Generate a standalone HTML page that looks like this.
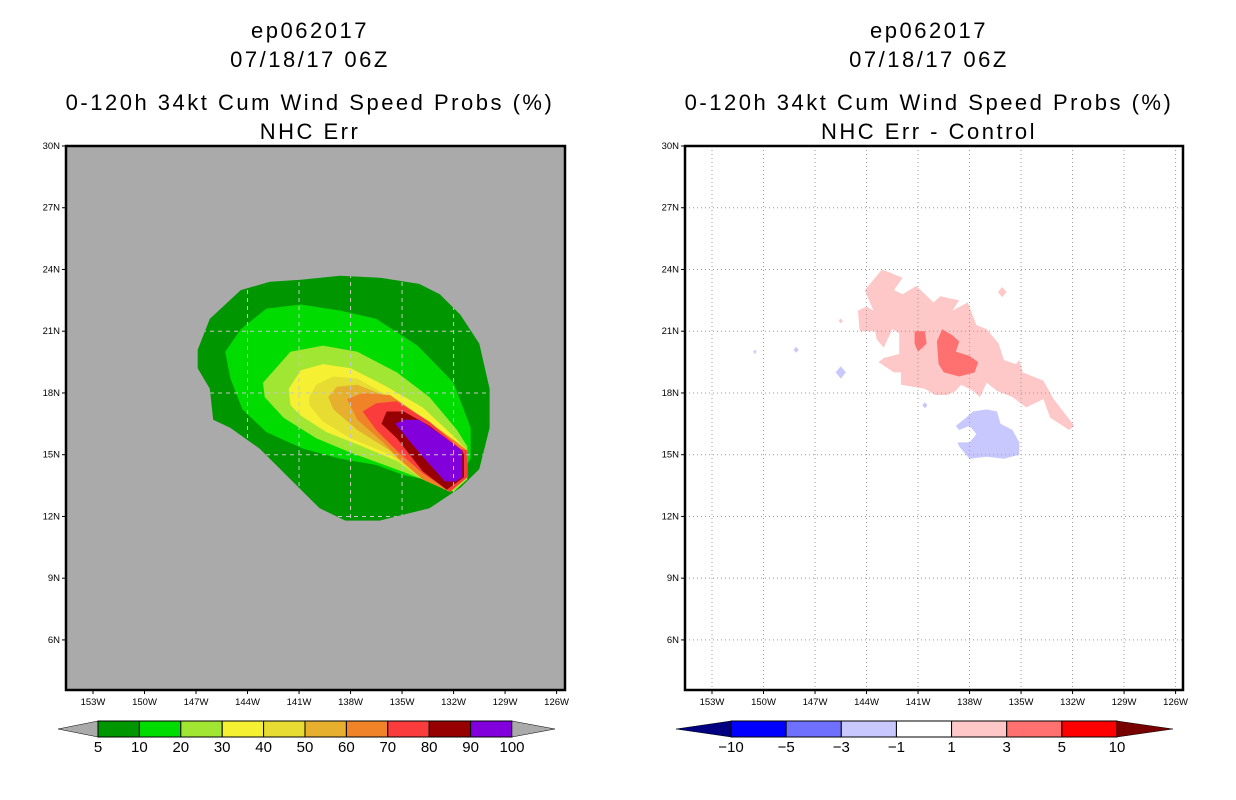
<!DOCTYPE html>
<html><head><meta charset="utf-8"><style>
html,body{margin:0;padding:0;background:#fff;}
svg{display:block;font-family:"Liberation Sans",sans-serif;}
.t{font-size:22px;text-anchor:middle;fill:#000;letter-spacing:2.5px}
.ax{font-size:9.5px;fill:#000}
.cb{font-size:15px;text-anchor:middle;fill:#000}
</style></head><body>
<svg id="root" width="1236" height="800" viewBox="0 0 1236 800">
<defs><clipPath id="clipL"><polygon id="clipPoly" points=""/></clipPath></defs>
<g id="titles">
<text class="t" x="310" y="38">ep062017</text>
<text class="t" x="310" y="67">07/18/17 06Z</text>
<text class="t" x="310" y="110">0-120h 34kt Cum Wind Speed Probs (%)</text>
<text class="t" x="310" y="139">NHC Err</text>
<text class="t" x="929" y="38">ep062017</text>
<text class="t" x="929" y="67">07/18/17 06Z</text>
<text class="t" x="929" y="110">0-120h 34kt Cum Wind Speed Probs (%)</text>
<text class="t" x="929" y="139">NHC Err - Control</text>
</g>
<g id="left"></g>
<g id="right"></g>
<g id="cbars"></g>
</svg>
<script>
// ---- data ----
const lonTicks = [-153,-150,-147,-144,-141,-138,-135,-132,-129,-126];
const latTicks = [30,27,24,21,18,15,12,9,6];
const probLevels = [5,10,20,30,40,50,60,70,80,90,100];
const probColors = ["#009600","#00dc00","#a0e632","#f5f032","#e6dc32","#e6af2d","#f08228","#fa3c3c","#960000","#8200dc"];
// contour polygons [lon,lat] for >=5,>=10,...>=90
const p5 = [[-146.9,20.1],[-146.2,21.6],[-144.4,23.0],[-142.7,23.4],[-140.9,23.5],[-138.6,23.7],[-136.3,23.6],[-134.0,23.3],[-132.8,22.8],[-131.6,21.8],[-130.5,20.4],[-129.9,18.2],[-129.9,16.3],[-130.5,14.3],[-131.6,13.4],[-133.4,12.4],[-136.3,11.8],[-138.3,11.8],[-139.8,12.4],[-141.5,13.8],[-143.3,15.3],[-145.0,16.3],[-146.0,16.7],[-146.2,18.2],[-146.9,19.2]];
const p10 = [[-145.3,20.0],[-144.4,21.1],[-142.9,22.1],[-140.9,22.3],[-138.6,22.0],[-136.5,21.6],[-134.1,20.3],[-132.0,18.5],[-131.0,16.3],[-131.0,14.8],[-131.8,13.8],[-133.0,13.7],[-134.9,14.0],[-136.5,14.5],[-138.6,14.8],[-140.8,15.3],[-142.9,16.1],[-144.3,17.2],[-145.0,18.7]];
const p20 = [[-143.1,18.5],[-141.5,20.0],[-139.6,20.3],[-137.6,20.0],[-135.3,19.0],[-133.4,17.8],[-131.8,16.2],[-131.2,15.4],[-131.2,13.8],[-132.0,13.2],[-133.8,13.8],[-135.7,14.4],[-138.0,15.1],[-140.0,15.8],[-141.9,16.8],[-143.0,17.8]];
const p30 = [[-141.6,18.2],[-140.9,19.1],[-139.6,19.4],[-138.0,19.2],[-136.1,18.4],[-133.8,17.3],[-132.0,15.9],[-131.2,15.2],[-131.2,13.9],[-132.2,13.2],[-133.8,13.8],[-135.3,14.7],[-137.3,15.4],[-139.4,16.1],[-140.9,16.9],[-141.5,17.4]];
const p40 = [[-140.4,17.8],[-140.0,18.4],[-139.0,18.8],[-137.6,18.7],[-135.7,17.8],[-133.4,16.6],[-131.8,15.6],[-131.2,15.2],[-131.2,13.9],[-132.2,13.2],[-133.8,13.8],[-135.7,15.0],[-138.0,15.8],[-139.6,16.6],[-140.4,17.4]];
const p50 = [[-139.3,17.8],[-138.8,18.3],[-137.6,18.4],[-136.1,17.9],[-133.8,16.8],[-131.8,15.6],[-131.2,15.2],[-131.2,13.9],[-132.2,13.2],[-133.8,13.8],[-135.7,15.2],[-137.6,16.2],[-139.0,17.2]];
const p60 = [[-138.2,17.7],[-137.3,18.0],[-135.7,17.9],[-133.8,16.8],[-131.8,15.6],[-131.2,15.2],[-131.2,13.9],[-132.2,13.2],[-133.8,13.8],[-135.2,14.8],[-136.1,15.6],[-137.6,16.7]];
const p70 = [[-137.3,17.1],[-136.5,17.5],[-135.3,17.6],[-133.4,16.6],[-131.6,15.3],[-131.2,15.2],[-131.2,13.9],[-132.2,13.2],[-133.8,14.1],[-135.3,15.2],[-136.5,16.2]];
const p80 = [[-136.2,16.5],[-135.9,17.1],[-134.9,17.1],[-133.4,16.4],[-131.5,15.2],[-131.4,15.0],[-131.4,13.9],[-132.4,13.3],[-133.8,14.2],[-135.3,15.8]];
const p90 = [[-135.4,16.5],[-134.9,16.7],[-134.0,16.7],[-132.6,15.9],[-131.5,15.2],[-131.5,13.9],[-131.9,13.7],[-132.5,13.7],[-133.8,14.9],[-134.9,16.0]];
const probPolys = [p5,p10,p20,p30,p40,p50,p60,p70,p80,p90];
// difference field
const diffLevels = [-10,-5,-3,-1,1,3,5,10];
const diffColors = ["#000080","#0000ff","#7070ff","#c8c8ff","#ffffff","#ffc8c8","#ff7070","#ff0000","#780000"];
const dPos1 = [[-143.1,24.0],[-141.9,23.6],[-142.4,23.0],[-141.9,22.8],[-141.1,23.2],[-140.1,22.4],[-139.7,22.7],[-138.6,22.5],[-139.0,22.0],[-138.1,22.4],[-137.6,21.3],[-137.0,21.1],[-136.3,20.4],[-136.0,19.6],[-135.3,19.4],[-135.1,19.6],[-134.9,19.0],[-133.7,18.6],[-133.1,17.7],[-131.9,16.4],[-132.2,16.2],[-133.3,16.8],[-133.7,17.7],[-134.7,17.3],[-135.5,17.8],[-136.4,18.1],[-137.0,18.5],[-137.4,17.8],[-137.8,18.1],[-138.5,18.4],[-138.8,18.1],[-139.3,17.9],[-140.0,17.9],[-140.6,18.2],[-142.0,18.4],[-142.0,19.0],[-142.4,19.0],[-143.3,19.5],[-143.0,19.7],[-142.1,19.9],[-142.1,20.9],[-142.5,21.1],[-143.0,20.2],[-143.4,20.6],[-143.5,21.0],[-144.4,21.0],[-144.5,22.0],[-144.0,22.2],[-143.6,22.0],[-144.1,23.0]];
const dPos3a = [[-141.2,21.0],[-140.6,21.0],[-140.5,20.4],[-141.0,20.0],[-141.2,20.4]];
const dPos3b = [[-139.6,21.1],[-139.0,20.8],[-138.6,20.5],[-138.8,20.0],[-138.0,19.8],[-137.5,19.5],[-137.7,19.0],[-138.6,18.8],[-139.5,19.0],[-139.8,19.4],[-139.9,20.5]];
const dNeg1 = [[-138.8,16.4],[-138.2,16.8],[-137.8,17.1],[-137.0,17.2],[-136.4,17.1],[-136.2,16.5],[-135.5,16.2],[-135.1,15.6],[-135.1,15.0],[-136.0,14.8],[-137.0,14.9],[-138.0,14.8],[-138.6,15.4],[-138.7,15.6],[-138.0,15.6],[-137.6,16.0],[-138.0,16.4],[-138.6,16.2]];
const speckLon = [-145.5,-148.1,-150.5,-140.6,-136.1,-145.5];
const speckLat = [19.0,20.1,20.0,17.4,22.9,21.5];
const speckVal = [-2,-2,-2,-2,2,2];
const speckSize = [0.3,0.15,0.1,0.15,0.25,0.12];

const NS="http://www.w3.org/2000/svg";
function mk(tag,attrs,parent){const e=document.createElementNS(NS,tag);for(const k in attrs)e.setAttribute(k,attrs[k]);parent.appendChild(e);return e;}
function panel(x0,y0,w,h){return {x:lon=>x0+27+(lon+153)*17.17,y:lat=>y0+(30-lat)*20.58,x0,y0,w,h};}
function poly(P,pts){return pts.map(p=>P.x(p[0]).toFixed(1)+","+P.y(p[1]).toFixed(1)).join(" ");}
function diffColor(v){let i=0;while(i<diffLevels.length&&v>diffLevels[i])i++;return diffColors[i];}

function axes(g,P,dashed,gridColor,clip){
  const gg=mk('g',clip?{'clip-path':'url(#'+clip+')'}:{},g);
  
  
  for(const lon of lonTicks){
    const x=P.x(lon);
    const l=mk('line',{x1:x,y1:P.y0,x2:x,y2:P.y0+P.h,stroke:gridColor,'stroke-width':1,'stroke-dasharray':dashed?'4,4':'1,3'},gg);
    
    
    const t=mk('line',{x1:x,y1:P.y0+P.h,x2:x,y2:P.y0+P.h+4,stroke:'#000'},g);
    
    
    const tx=mk('text',{class:'ax',x:x,y:P.y0+P.h+15,'text-anchor':'middle'},g);
    tx.textContent=(-lon)+"W";
    
    
  }
  for(const lat of latTicks){
    const y=P.y(lat);
    if(lat<30){
      const l=mk('line',{x1:P.x0,y1:y,x2:P.x0+P.w,y2:y,stroke:gridColor,'stroke-width':1,'stroke-dasharray':dashed?'4,4':'1,3'},gg);
      
      
    }
    const t=mk('line',{x1:P.x0-4,y1:y,x2:P.x0,y2:y,stroke:'#000'},g);
    
    
    const tx=mk('text',{class:'ax',x:P.x0-6,y:y+3,'text-anchor':'end'},g);
    tx.textContent=lat+"N";
    
    
  }
  const f=mk('rect',{x:P.x0,y:P.y0,width:P.w,height:P.h,fill:'none',stroke:'#000','stroke-width':2.5},g);
  
  
}

// left panel
const L=panel(66,146,499,544);
const gl=document.getElementById('left');
document.getElementById('clipPoly').setAttribute('points',poly(L,p5));
const bgL=mk('rect',{x:L.x0,y:L.y0,width:L.w,height:L.h,fill:'#aaaaaa'},gl);


probPolys.forEach((pts,i)=>{
  const p=mk('polygon',{points:poly(L,pts),fill:probColors[i]},gl);
  
  
});
axes(gl,L,true,'#c8c8c8','clipL');

// right panel
const R=panel(685,146,498,544);
const gr=document.getElementById('right');
const bgR=mk('rect',{x:R.x0,y:R.y0,width:R.w,height:R.h,fill:'#ffffff'},gr);


[[dPos1,2],[dPos3a,4],[dPos3b,4],[dNeg1,-2]].forEach(([pts,v])=>{
  const p=mk('polygon',{points:poly(R,pts),fill:diffColor(v)},gr);
  
  
});
speckLon.forEach((lon,i)=>{
  const s=speckSize[i],la=speckLat[i];
  const p=mk('polygon',{points:poly(R,[[lon,la+s],[lon+s,la],[lon,la-s],[lon-s,la]]),fill:diffColor(speckVal[i])},gr);
  
  
});
axes(gr,R,false,'#999999',null);

// colorbars
const gc=document.getElementById('cbars');
function colorbar(x0,x1,xa,xb,y0,y1,colors,labels,triL,triR,name){
  const n=colors.length-(triL?1:0)-(triR?1:0);
  const cw=(x1-x0)/n, ym=(y0+y1)/2;
  let ci=0;
  if(triL){const t=mk('polygon',{points:`${xa},${ym} ${x0},${y0} ${x0},${y1}`,fill:colors[ci++],stroke:'#000','stroke-width':0.5},gc);
    
    }
  for(let i=0;i<n;i++){
    const r=mk('rect',{x:x0+i*cw,y:y0,width:cw,height:y1-y0,fill:colors[ci++],stroke:'#000','stroke-width':1},gc);
    
    
  }
  if(triR){const t=mk('polygon',{points:`${xb},${ym} ${x1},${y0} ${x1},${y1}`,fill:colors[ci++],stroke:'#000','stroke-width':0.5},gc);
    
    }
  labels.forEach((lb,i)=>{
    const t=mk('text',{class:'cb',x:x0+i*cw,y:y1+15},gc);
    t.textContent=String(lb).replace('-','\u2212');
    
    
  });
}
colorbar(98,512,58,555,721,737,['#aaaaaa'].concat(probColors,['#aaaaaa']),probLevels,true,true,'prob-colorbar');
colorbar(731,1117,676,1173,721,737,diffColors,diffLevels,true,true,'diff-colorbar');
</script>
</body></html>
